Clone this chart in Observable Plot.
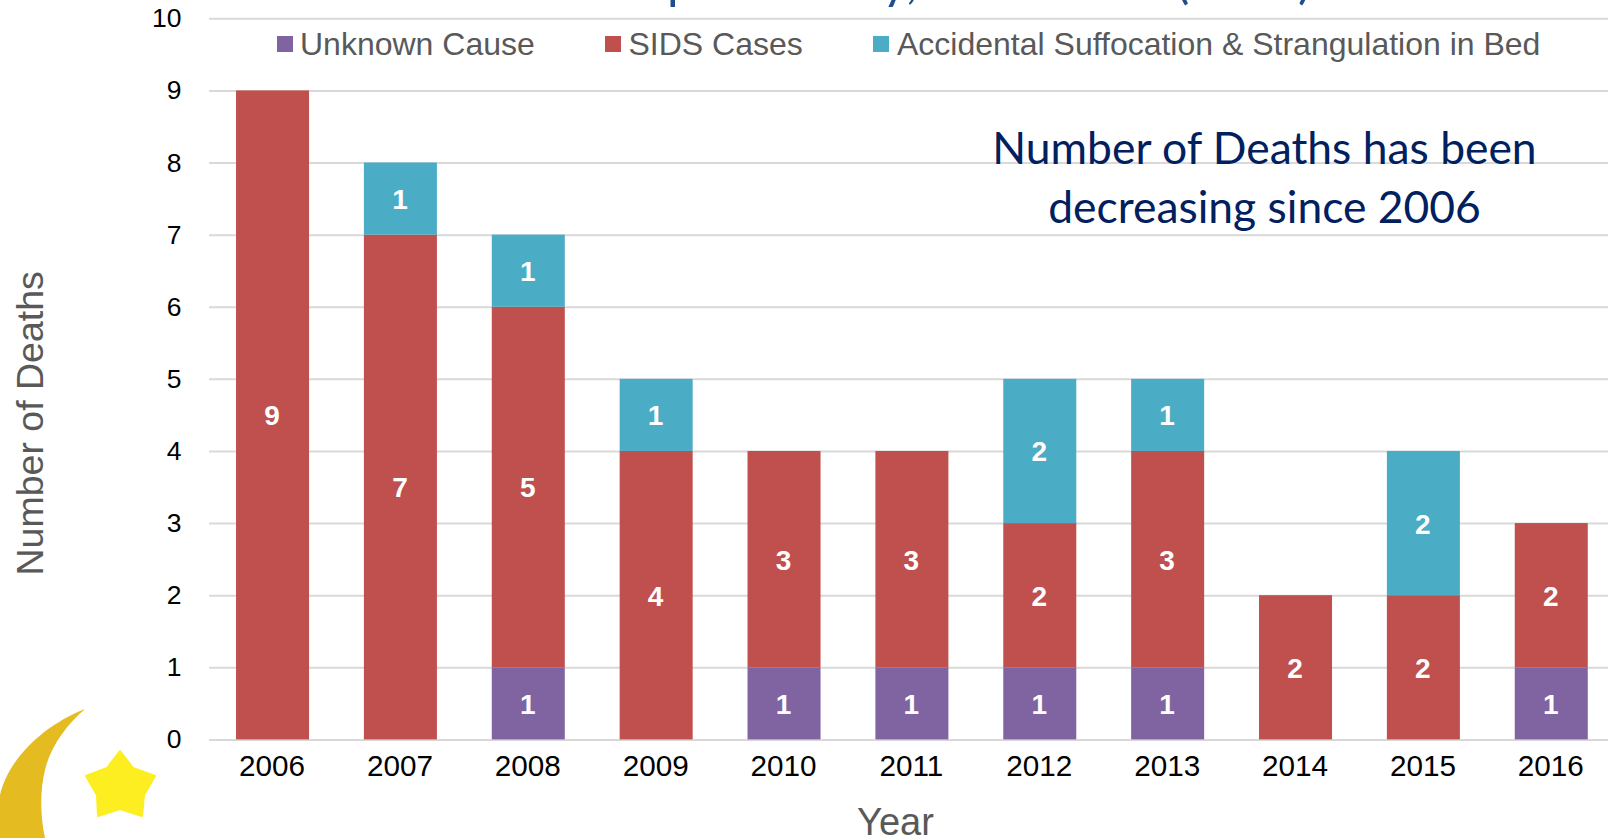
<!DOCTYPE html>
<html>
<head>
<meta charset="utf-8">
<script src="https://cdn.jsdelivr.net/npm/d3@7"></script>
<script src="https://cdn.jsdelivr.net/npm/@observablehq/plot@0.6"></script>
<style>
html,body{margin:0;padding:0;background:#fff;overflow:hidden}
#wrap{position:relative;width:1608px;height:838px;overflow:hidden}
#wrap svg{display:block}
.lg{position:absolute;font:32px "Liberation Sans",Arial,sans-serif;color:#595959;line-height:34px;top:27px;white-space:nowrap}
.sw{position:absolute;width:16px;height:16px;top:36px}
.frag{position:absolute;font:400 50px "Lato",sans-serif;color:#1F4E8C;line-height:50px;white-space:nowrap}
#deco{position:absolute;left:0;top:0;pointer-events:none}
</style>
</head>
<body>
<div id="wrap"></div>
<script>
const years = ["2006","2007","2008","2009","2010","2011","2012","2013","2014","2015","2016"];
const unknownCause = [0,0,1,0,1,1,1,1,0,0,1];
const sidsCases    = [9,7,5,4,3,3,2,3,2,2,2];
const accidental   = [0,1,1,1,0,0,2,1,0,2,0];
const seriesNames  = ["Unknown Cause","SIDS Cases","Accidental Suffocation & Strangulation in Bed"];
const seriesColors = ["#8064A2","#C0504D","#4BACC6"];
const yTicks = [0,1,2,3,4,5,6,7,8,9,10];
const noteLines = "Number of Deaths has been\ndecreasing since 2006";

const rows = [];
[unknownCause, sidsCases, accidental].forEach((vals, s) => {
  vals.forEach((v, i) => { if (v > 0) rows.push({year: years[i], cause: seriesNames[s], value: v}); });
});

const chart = Plot.plot({
  width: 1608, height: 838,
  marginLeft: 209, marginRight: 0, marginTop: 18.3, marginBottom: 98.6,
  style: {background: "#fff"},
  x: {domain: years, range: [208.6, 1615.2], paddingInner: 0.429, paddingOuter: 0.2145, round: false, label: null},
  y: {domain: [0, 10], label: null},
  color: {domain: seriesNames, range: seriesColors},
  marks: [
    Plot.ruleY(yTicks, {stroke: "#D9D9D9", strokeWidth: 2}),
    Plot.barY(rows, {x: "year", y: "value", fill: "cause", z: "cause", order: seriesNames}),
    Plot.text(rows, Plot.stackY({x: "year", y: "value", z: "cause", order: seriesNames, text: d => String(d.value),
      fill: "#fff", fontSize: 28, fontWeight: 700, fontFamily: "Liberation Sans", dx: -1, dy: 1})),
    Plot.axisY({ticks: yTicks, tickSize: 0, tickPadding: 28, fontSize: 26.5, fontFamily: "Liberation Sans", fill: "#000", label: null}),
    Plot.axisX({tickSize: 0, tickPadding: 15, dx: -1, fontSize: 29.7, fontFamily: "Liberation Sans", fill: "#000", label: null}),
    Plot.text(["Number of Deaths"], {frameAnchor: "left", rotate: -90, dx: -167, dy: 44, textAnchor: "middle", lineAnchor: "bottom",
      fontSize: 37.5, fontFamily: "Liberation Sans", fill: "#595959"}),
    Plot.text(["Year"], {frameAnchor: "bottom", dx: -13.5, dy: 95, lineAnchor: "bottom", textAnchor: "middle",
      fontSize: 38, fontFamily: "Liberation Sans", fill: "#595959"}),
    Plot.text([noteLines], {frameAnchor: "top-left", dx: 1264 - 209, dy: 104, textAnchor: "middle", lineAnchor: "top", lineHeight: 1.32,
      fontSize: 44.4, fontFamily: "Lato", fill: "#002060"})
  ]
});
const wrap = document.getElementById("wrap");
wrap.appendChild(chart);

// legend row, laid over the chart as in the reference
const legendX = [[277,300],[605,628.5],[873,897]];
seriesNames.forEach((n,i)=>{
  const s=document.createElement("div"); s.className="sw"; s.style.left=legendX[i][0]+"px"; s.style.background=seriesColors[i]; wrap.appendChild(s);
  const t=document.createElement("div"); t.className="lg"; t.style.left=legendX[i][1]+"px"; t.textContent=n; wrap.appendChild(t);
});

// glyph fragments of the title that is cropped by the top edge
[["p",667],["y,",882],["(",1176],[")",1298]].forEach(([g,x])=>{
  const f=document.createElement("div"); f.className="frag"; f.style.left=x+"px"; f.style.top="-46px"; f.textContent=g; wrap.appendChild(f);
});

// moon and star logo
const ns="http://www.w3.org/2000/svg";
const deco=document.createElementNS(ns,"svg");
deco.setAttribute("id","deco");deco.setAttribute("width",1608);deco.setAttribute("height",838);
deco.innerHTML='<path d="M85,709 C42,726 8,760 0,795 L0,838 L45,838 C40,815 40,790 45,770 C50,748 66,725 85,709 Z" fill="#E5BB22"/>'+
 '<polygon points="120,751 133,768 155,776 144,795 142,816 120,809 98,816 97,795 86,776 107,768" fill="#FCEE21" stroke="#FCEE21" stroke-width="2" stroke-linejoin="round"/>';
wrap.appendChild(deco);
</script>
</body>
</html>
